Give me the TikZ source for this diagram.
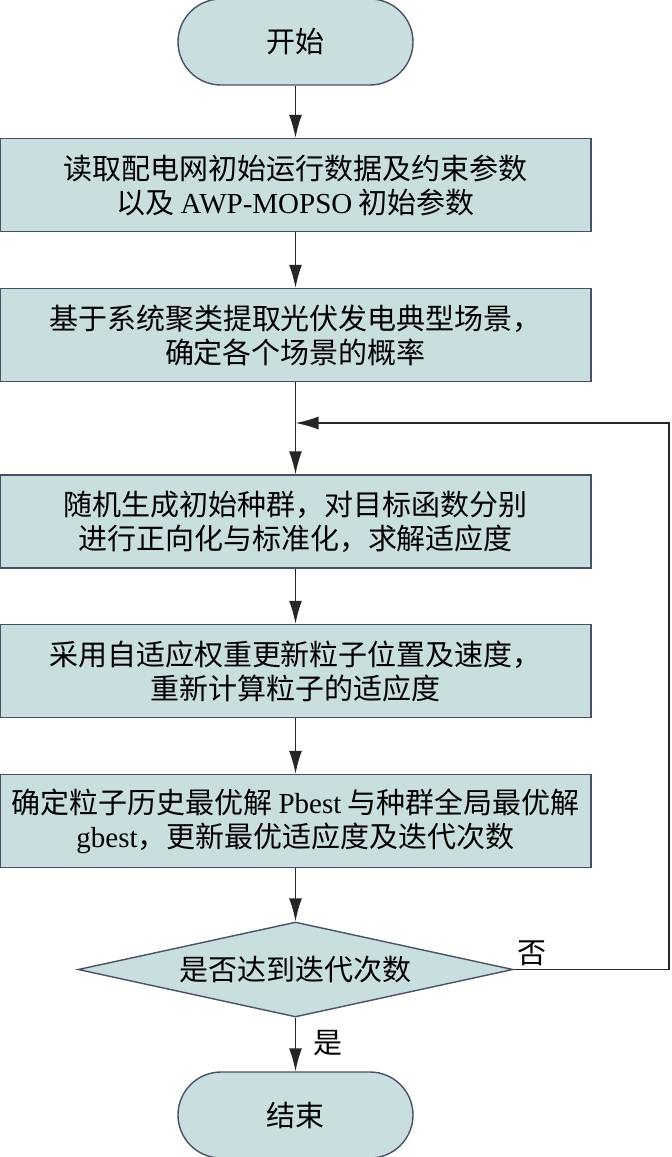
\documentclass[tikz,border=0pt]{standalone}
\usepackage{fontspec}
\setmainfont{Liberation Serif}
\newfontfamily\cjk{Noto Sans CJK SC}
\usetikzlibrary{shapes.geometric,arrows.meta}
\definecolor{boxfill}{HTML}{C9DEDE}
\definecolor{boxline}{HTML}{4B5066}
\tikzset{
	stepbox/.style={draw=boxline,fill=boxfill,line width=.7pt,
		minimum width=295.5pt,minimum height=46.5pt,inner sep=0pt,
		align=center,font=\cjk\fontsize{14.5}{17}\selectfont},
	termbox/.style={stepbox,rounded corners=21.5pt,
		minimum width=117.5pt,minimum height=43pt},
	testbox/.style={stepbox,diamond,aspect=4.58,
		minimum width=217.5pt,minimum height=47.5pt},
	flow/.style={draw=black!85,line width=.7pt,-{Latex[length=11.5pt,width=6.5pt]}},
	tag/.style={font=\cjk\fontsize{14.5}{17}\selectfont,inner sep=0pt}
}
\begin{document}
\begin{tikzpicture}[x=.5pt,y=-.5pt]
	\useasboundingbox (0,0) rectangle (671,1157);
	\node[termbox] (start) at (295.5,42) {开始};
	\node[stepbox] (read) at (295.5,185)
		{读取配电网初始运行数据及约束参数\\以及 {\rmfamily AWP-MOPSO} 初始参数};
	\node[stepbox] (scene) at (295.5,335)
		{基于系统聚类提取光伏发电典型场景，\\确定各个场景的概率};
	\node[stepbox] (init) at (295.5,521.5)
		{随机生成初始种群，对目标函数分别\\进行正向化与标准化，求解适应度};
	\node[stepbox] (update) at (295.5,671)
		{采用自适应权重更新粒子位置及速度，\\重新计算粒子的适应度};
	\node[stepbox] (best) at (295.5,821)
		{确定粒子历史最优解 {\rmfamily Pbest} 与种群全局最优解\\{\rmfamily gbest}，更新最优适应度及迭代次数};
	\node[testbox] (check) at (295.5,969.5) {是否达到迭代次数};
	\node[termbox] (stop) at (295.5,1115) {结束};
	% connectors
	\draw[flow] (start) -- (read);
	\draw[flow] (read) -- (scene);
	\draw[flow] (scene) -- (init);
	\draw[flow] (init) -- (update);
	\draw[flow] (update) -- (best);
	\draw[flow] (best) -- (check);
	\draw[flow] (check) -- (stop);
	% loop back
	\coordinate (back) at (669,423);
	\coordinate (join) at (295.5,423);
	\draw[flow] (check.east) -| (back) -- (join);
	\node[tag] (no) at (532,953) {否};
	\node[tag] (yes) at (328,1043) {是};
\end{tikzpicture}
\end{document}
